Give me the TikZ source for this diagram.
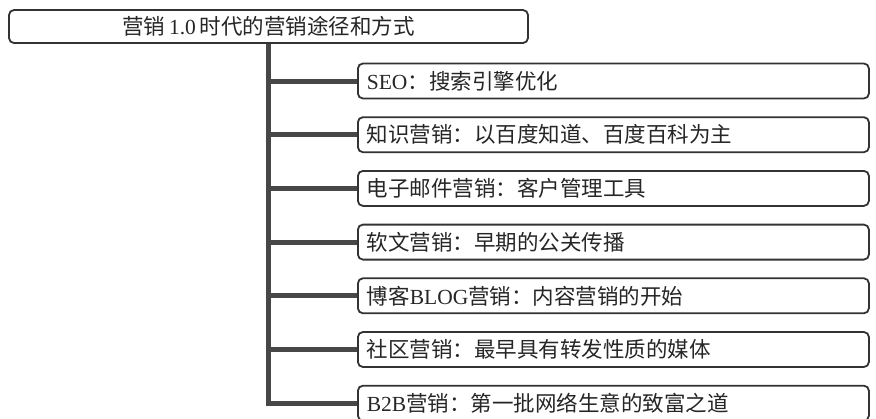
\documentclass[tikz,border=0pt]{standalone}
\usepackage{fontspec}
\usetikzlibrary{backgrounds}
\setmainfont{Liberation Serif}
\newfontfamily\cjk{Noto Sans CJK SC}
\definecolor{ink}{HTML}{333333}
\definecolor{txt}{HTML}{262626}
\begin{document}
\begin{tikzpicture}[x=1pt,y=1pt,
  boxstyle/.style={draw=ink, line width=1.8pt, rounded corners=5pt, fill=white,
    minimum height=35pt, inner xsep=9pt, inner ysep=0pt, text width=493pt, align=left,
    anchor=west, font=\fontsize{21.5pt}{24pt}\selectfont\cjk, text=txt},
  titlestyle/.style={draw=ink, line width=1.8pt, rounded corners=5pt, fill=white,
    minimum width=519pt, minimum height=33pt, inner sep=0pt,
    font=\fontsize{21.5pt}{24pt}\selectfont\cjk, text=txt},
  conn/.style={draw=ink!90, line width=5pt}]
\useasboundingbox (0,0) rectangle (876,-418);
\node[titlestyle] (top) at (268.5,-26.5) {营销\,{\rmfamily 1.0}\,时代的营销途径和方式};
\node[boxstyle] (b1) at (357,-81) {{\rmfamily SEO}：搜索引擎优化};
\node[boxstyle] (b2) at (357,-134.7) {知识营销：以百度知道、百度百科为主};
\node[boxstyle] (b3) at (357,-188.4) {电子邮件营销：客户管理工具};
\node[boxstyle] (b4) at (357,-242.1) {软文营销：早期的公关传播};
\node[boxstyle] (b5) at (357,-295.8) {博客{\rmfamily BLOG}营销：内容营销的开始};
\node[boxstyle] (b6) at (357,-349.5) {社区营销：最早具有转发性质的媒体};
\node[boxstyle] (b7) at (357,-403.2) {{\rmfamily B2B}营销：第一批网络生意的致富之道};
\coordinate (trunkend) at (top.south |- b7.west);
\begin{scope}[on background layer]
\draw[conn, line join=miter] (top.south) -- (trunkend) -- (b7.west);
\foreach \b in {b1,b2,b3,b4,b5,b6}{
  \draw[conn] (top.south |- \b.west) -- (\b.west);
}
\end{scope}
\end{tikzpicture}
\end{document}
